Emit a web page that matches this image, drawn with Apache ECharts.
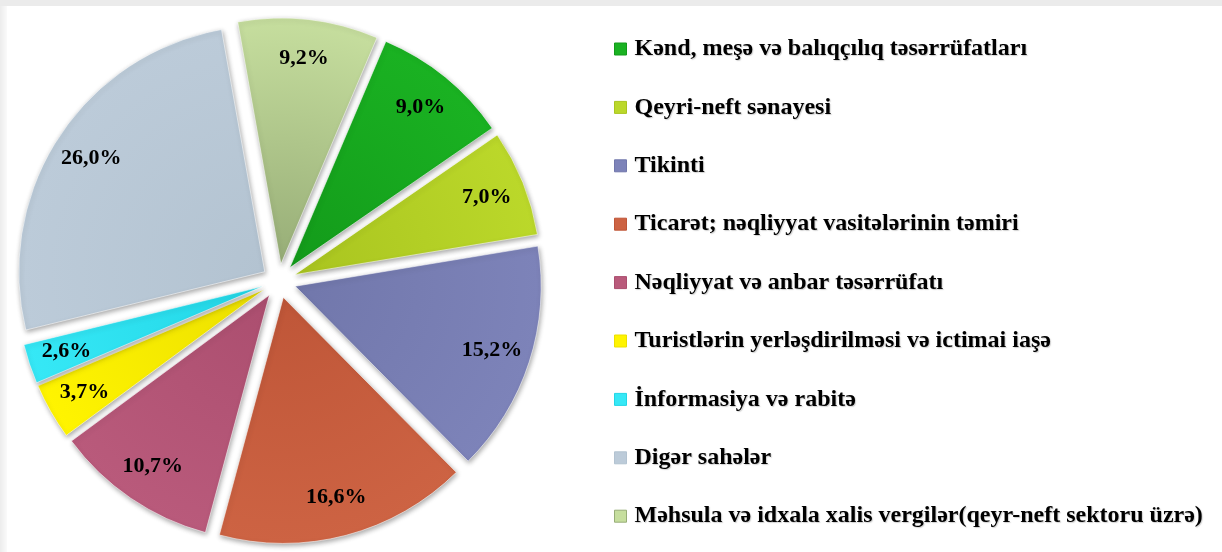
<!DOCTYPE html>
<html>
<head>
<meta charset="utf-8">
<script src="https://cdn.jsdelivr.net/npm/echarts@6/dist/echarts.min.js"></script>
<style>
  html, body { margin: 0; padding: 0; background: #fff; }
  #chart { width: 1222px; height: 552px; }
</style>
</head>
<body>
<div id="chart"></div>
<script>
const categories = [
  'Kənd, meşə və balıqçılıq təsərrüfatları',
  'Qeyri-neft sənayesi',
  'Tikinti',
  'Ticarət; nəqliyyat vasitələrinin təmiri',
  'Nəqliyyat və anbar təsərrüfatı',
  'Turistlərin yerləşdirilməsi və ictimai iaşə',
  'İnformasiya və rabitə',
  'Digər sahələr',
  'Məhsula və idxala xalis vergilər(qeyr-neft sektoru üzrə)'
]
const shares = [9.0, 7.0, 15.2, 16.6, 10.7, 3.7, 2.6, 26.0, 9.2]
// [inner, outer] shade per slice
const colors = [
  ['#139a1a', '#1ab222'],
  ['#a9c41f', '#bbd82a'],
  ['#7177ab', '#7d83b9'],
  ['#bf5638', '#cd6343'],
  ['#ab4e6f', '#b95a7b'],
  ['#ece000', '#fff400'],
  ['#22d6e6', '#36e8f6'],
  ['#b3c3d1', '#bccbd9'],
  ['#97ad77', '#c6de9e']
]

const cx = 279
const cy = 281
const R = 246

const chart = echarts.init(document.getElementById('chart'))

const mainData = categories.map((name, i) => ({
  name: name,
  value: shares[i],
  selected: true,
  itemStyle: {
    color: {
      type: 'radial', x: cx, y: cy, r: R, global: true,
      colorStops: [{offset: 0, color: colors[i][0]}, {offset: 1, color: colors[i][1]}]
    }
  }
}))

const labelData = categories.map((name, i) => ({
  name: name,
  value: shares[i]
}))

const serif = 'Liberation Serif, Times New Roman, serif'

chart.setOption({
  animation: false,
  backgroundColor: '#fff',
  graphic: [
    {type: 'rect', left: 0, top: 0, shape: {width: 1222, height: 6}, style: {fill: '#ebebeb'}, silent: true},
    {type: 'rect', left: 0, top: 6, shape: {width: 7, height: 546},
      style: {fill: new echarts.graphic.LinearGradient(0, 0, 1, 0, [{offset: 0, color: '#ececec'}, {offset: 1, color: '#fafafa'}])}, silent: true}
  ],
  legend: {
    orient: 'vertical',
    left: 614,
    top: 37,
    padding: 0,
    icon: 'rect',
    itemWidth: 12,
    itemHeight: 12,
    itemGap: 34.4,
    selectedMode: false,
    textStyle: {
      fontFamily: serif,
      fontWeight: 'bold',
      color: '#000',
      fontSize: 24,
      lineHeight: 24,
      padding: [0, 0, 0, 3],
      textShadowColor: 'rgba(0,0,0,0.18)',
      textShadowBlur: 1,
      textShadowOffsetX: 1,
      textShadowOffsetY: 1
    },
    data: categories.map((name, i) => ({
      name: name,
      itemStyle: {color: colors[i][1], borderColor: colors[i][0], borderWidth: 1}
    }))
  },
  series: [
    {
      name: 'share',
      type: 'pie',
      center: [cx, cy],
      radius: [0, R],
      startAngle: 67,
      clockwise: true,
      selectedMode: 'multiple',
      selectedOffset: 17,
      label: {show: false},
      labelLine: {show: false},
      itemStyle: {
        borderColor: 'rgba(255,255,255,0.55)',
        borderWidth: 1,
        shadowColor: 'rgba(0,0,0,0.35)',
        shadowBlur: 5,
        shadowOffsetX: 1,
        shadowOffsetY: 2
      },
      emphasis: {disabled: true},
      data: mainData
    },
    {
      name: 'labels',
      type: 'pie',
      center: [cx, cy],
      radius: [180, 262],
      startAngle: 67,
      clockwise: true,
      silent: true,
      itemStyle: {color: 'rgba(0,0,0,0)'},
      label: {
        show: true,
        position: 'inside',
        fontFamily: serif,
        fontWeight: 'bold',
        color: '#000',
        fontSize: 22,
        formatter: p => p.value.toFixed(1).replace('.', ',') + '%'
      },
      labelLine: {show: false},
      emphasis: {disabled: true},
      data: labelData
    }
  ]
})
</script>
</body>
</html>
